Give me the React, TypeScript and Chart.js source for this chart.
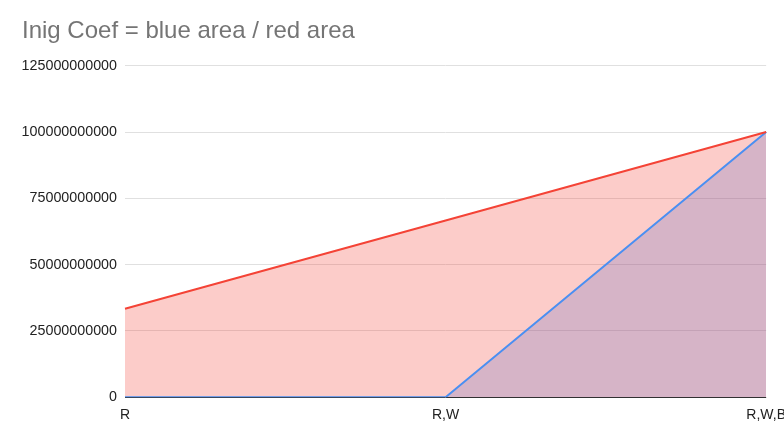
import React, { useEffect, useRef } from "react";
import { Chart, registerables } from "chart.js";

Chart.register(...registerables);

const categories = ["R", "R,W", "R,W,B"];
const redValues = [33333333333, 66666666667, 100000000000];
const blueValues = [0, 0, 100000000000];
const yTicks = { min: 0, max: 125000000000, step: 25000000000 };
const titleText = "Inig Coef = blue area / red area";

const FONT = "'Liberation Sans', Arial, Helvetica, sans-serif";

export default function App() {
  const ref = useRef<HTMLCanvasElement | null>(null);

  useEffect(() => {
    if (!ref.current) return;
    const chart = new Chart(ref.current, {
      type: "line",
      data: {
        labels: categories,
        datasets: [
          {
            label: "red",
            data: redValues,
            borderColor: "#f44336",
            backgroundColor: "rgba(244,67,54,0.27)",
            borderWidth: 2,
            pointRadius: 0,
            fill: "origin",
            tension: 0,
          },
          {
            label: "blue",
            data: blueValues,
            borderColor: "#4a8ff2",
            backgroundColor: "rgba(66,133,244,0.28)",
            borderWidth: 2,
            pointRadius: 0,
            fill: "origin",
            tension: 0,
          },
        ],
      },
      options: {
        animation: false,
        responsive: true,
        maintainAspectRatio: false,
        layout: { padding: { left: 22, right: 0, top: 0, bottom: 11 } },
        plugins: {
          legend: { display: false },
          tooltip: { enabled: false },
          filler: { drawTime: "beforeDatasetsDraw" },
          title: {
            display: true,
            text: titleText,
            align: "start",
            color: "#757575",
            font: { family: FONT, size: 24, weight: "normal" },
            padding: { top: 17, bottom: 20 },
          },
        },
        scales: {
          x: {
            type: "category",
            offset: false,
            grid: { display: false },
            border: { display: false },
            ticks: {
              color: "#222",
              font: { family: FONT, size: 14 },
              padding: 2,
              maxRotation: 0,
              autoSkip: false,
            },
          },
          y: {
            min: yTicks.min,
            max: yTicks.max,
            border: { display: false },
            afterFit: (scale: any) => {
              scale.width = 103;
            },
            grid: {
              drawTicks: false,
              color: (ctx: any) => (ctx.tick && ctx.tick.value === 0 ? "#333" : "#e0e0e0"),
              lineWidth: 1,
            },
            ticks: {
              stepSize: yTicks.step,
              color: "#222",
              font: { family: FONT, size: 14.3 },
              padding: 8,
              callback: (v: any) => String(v),
            },
          },
        },
      },
    });
    return () => chart.destroy();
  }, []);

  return (
    <div style={{ position: "fixed", left: 0, top: 0, width: 784, height: 437, overflow: "hidden", background: "#fff" }}>
      <div style={{ position: "absolute", left: 0, top: 0, width: 788, height: 437 }}>
        <canvas ref={ref} />
      </div>
    </div>
  );
}
